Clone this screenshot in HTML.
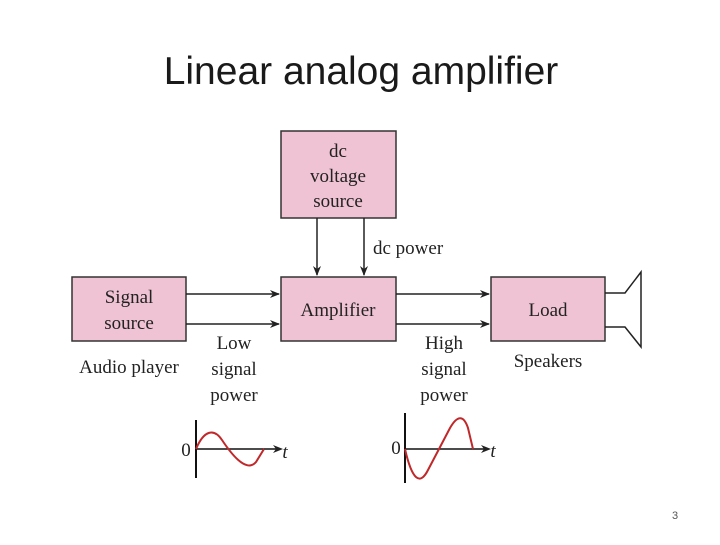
<!DOCTYPE html>
<html><head><style>
body{margin:0;width:720px;height:540px;background:#fff;overflow:hidden}
</style></head><body>
<svg width="720" height="540" xmlns="http://www.w3.org/2000/svg" font-family="Liberation Serif, serif">
<defs><marker id="a" markerWidth="10" markerHeight="8" refX="9" refY="4" orient="auto" markerUnits="userSpaceOnUse"><path d="M0,0 L10,4 L0,8 L3,4Z" fill="#222"/></marker></defs>
<text x="361" y="84" font-family="Liberation Sans, sans-serif" font-size="39" text-anchor="middle" fill="#1a1a1a">Linear analog amplifier</text>
<g fill="#efc3d3" stroke="#333" stroke-width="1.5">
<rect x="281" y="131" width="115" height="87"/>
<rect x="281" y="277" width="115" height="64"/>
<rect x="72" y="277" width="114" height="64"/>
<rect x="491" y="277" width="114" height="64"/>
</g>
<g stroke="#222" stroke-width="1.5" fill="none" marker-end="url(#a)">
<line x1="317" y1="218" x2="317" y2="275"/>
<line x1="364" y1="218" x2="364" y2="275"/>
<line x1="186" y1="294" x2="279" y2="294"/>
<line x1="186" y1="324" x2="279" y2="324"/>
<line x1="396" y1="294" x2="489" y2="294"/>
<line x1="396" y1="324" x2="489" y2="324"/>
</g>
<path d="M605,293 H625 L641,272 V347 L625,327 H605" fill="none" stroke="#222" stroke-width="1.5"/>
<g font-size="19" fill="#222" text-anchor="middle">
<text x="338" y="157">dc</text><text x="338" y="182">voltage</text><text x="338" y="207">source</text>
<text x="338" y="316">Amplifier</text>
<text x="129" y="303">Signal</text><text x="129" y="329">source</text>
<text x="548" y="316">Load</text>
<text x="234" y="349">Low</text><text x="234" y="375">signal</text><text x="234" y="401">power</text>
<text x="444" y="349">High</text><text x="444" y="375">signal</text><text x="444" y="401">power</text>
<text x="129" y="373">Audio player</text>
<text x="548" y="367">Speakers</text>
<text x="373" y="254" text-anchor="start">dc power</text>
<text x="186" y="456">0</text><text x="396" y="454">0</text>
<text x="285" y="458" font-style="italic">t</text><text x="493" y="457" font-style="italic">t</text>
</g>
<g stroke="#111" stroke-width="2" fill="none">
<line x1="196" y1="478" x2="196" y2="420"/>
<line x1="196" y1="449" x2="276" y2="449" stroke-width="1.5"/>
<line x1="405" y1="483" x2="405" y2="413"/>
<line x1="405" y1="449" x2="484" y2="449" stroke-width="1.5"/>
</g>
<path d="M276,449 l6,0" stroke="#111" marker-end="url(#a)"/>
<path d="M484,449 l6,0" stroke="#111" marker-end="url(#a)"/>
<path d="M196,449 C204,430 214,428 222,440 S246,474 256,462 L264,449" fill="none" stroke="#c0282a" stroke-width="2"/>
<path d="M405,449 C412,480 420,486 428,470 L450,428 C458,414 464,416 468,428 L473,449" fill="none" stroke="#c0282a" stroke-width="2"/>
<text x="672" y="519" font-family="Liberation Sans, sans-serif" font-size="11" fill="#555">3</text>
</svg>
</body></html>
